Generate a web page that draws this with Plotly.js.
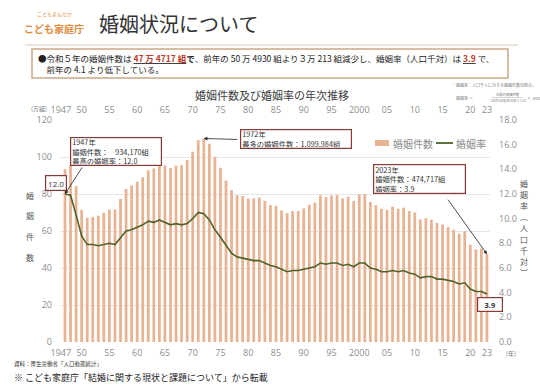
<!DOCTYPE html>
<html>
<head>
<meta charset="utf-8">
<script src="https://cdn.plot.ly/plotly-3.0.1.min.js"></script>
<style>html,body{margin:0;padding:0;background:#fff;}#chart{width:540px;height:387px;}</style>
</head>
<body>
<div id="chart"></div>
<script>
// ---- DATA ----
const years = [1947,1948,1949,1950,1951,1952,1953,1954,1955,1956,1957,1958,1959,1960,1961,1962,1963,1964,1965,1966,1967,1968,1969,1970,1971,1972,1973,1974,1975,1976,1977,1978,1979,1980,1981,1982,1983,1984,1985,1986,1987,1988,1989,1990,1991,1992,1993,1994,1995,1996,1997,1998,1999,2000,2001,2002,2003,2004,2005,2006,2007,2008,2009,2010,2011,2012,2013,2014,2015,2016,2017,2018,2019,2020,2021,2022,2023];
// 婚姻件数 (万組)
const marriages = [93.4,95.4,84.2,71.5,67.2,67.7,68.2,69.8,71.5,71.6,77.3,82.7,84.7,86.6,89.0,92.8,93.8,96.3,95.5,94.0,95.3,95.6,98.4,102.9,109.1,110.0,107.2,100.0,94.2,87.2,82.1,79.3,78.9,77.5,77.7,78.1,76.3,74.0,73.6,71.1,69.6,70.8,70.8,72.2,74.2,75.4,79.3,78.3,79.2,79.5,77.6,78.5,76.2,79.8,80.0,75.7,74.0,72.0,71.4,73.1,72.0,72.6,70.8,70.0,66.2,66.9,66.1,64.4,63.5,62.1,60.7,58.6,59.9,52.6,50.1,50.5,47.5];
// 婚姻率 (人口千対)
const rates = [12.0,11.9,10.3,8.6,7.9,7.9,7.8,7.9,8.0,7.9,8.5,9.0,9.1,9.3,9.5,9.8,9.7,9.9,9.7,9.5,9.6,9.5,9.6,10.0,10.5,10.4,9.9,9.1,8.5,7.8,7.2,6.9,6.8,6.7,6.6,6.6,6.4,6.2,6.1,5.9,5.7,5.8,5.8,5.9,6.0,6.1,6.4,6.3,6.4,6.4,6.2,6.3,6.1,6.4,6.4,6.0,5.9,5.7,5.7,5.8,5.7,5.8,5.6,5.5,5.2,5.3,5.3,5.1,5.1,5.0,4.9,4.7,4.8,4.3,4.1,4.1,3.9];
const xTickText = ['1947','50','55','60','65','70','75','80','85','90','95','2000','05','10','15','20','23'];
const xTickYears = [1947,1950,1955,1960,1965,1970,1975,1980,1985,1990,1995,2000,2005,2010,2015,2020,2023];
const leftTicks = [0,20,40,60,80,100,120];
const rightTicks = [0,2,4,6,8,10,12,14,16,18];
const seriesNames = ['婚姻件数', '婚姻率'];

// ---- STYLE ----
const JP = '"Noto Sans CJK JP", "Noto Sans", sans-serif';
const NUM = '"Liberation Sans Narrow", "Open Sans", sans-serif';
const tickFont = {family: NUM, size: 9, color: '#8c8c8c'};
const boxColor = '#8b3a3a';
const barColor = '#e8b393';
const lineColor = '#4f6228';
const L = 60, R = 490, T = 120, B = 342;
const px = x => (x - L) / (R - L);
const py = y => (B - y) / (B - T);
// first label ("1947") is drawn slightly left of its bar, as in the original
const xTickVals = xTickYears.map((v, i) => i === 0 ? v - 0.75 : v);

const traces = [
  {type: 'bar', x: years, y: marriages, name: seriesNames[0], xaxis: 'x', yaxis: 'y',
   marker: {color: barColor}, width: 0.5, hoverinfo: 'skip'},
  {type: 'scatter', mode: 'lines', x: years, y: rates, name: seriesNames[1], xaxis: 'x2', yaxis: 'y2',
   line: {color: lineColor, width: 1.6}, hoverinfo: 'skip'}
];

const ann = [];
function txt(text, x, y, size, color, opts) {
  ann.push(Object.assign({text: text, x: x, y: y, xref: 'paper', yref: 'paper', showarrow: false,
    font: {family: JP, size: size, color: color}}, opts || {}));
}
// header
txt('婚姻状況について', px(97), py(23), 20, '#333', {xanchor: 'left', yanchor: 'middle'});
txt('こどもまんなか', px(54), py(14), 5, '#e08a3c', {xanchor: 'center', yanchor: 'middle'});
txt('<b>こども家庭庁</b>', px(54), py(28), 10, '#e08a3c', {xanchor: 'center', yanchor: 'middle'});
// summary box text
txt('●令和５年の婚姻件数は <b><u><span style="color:#c0392b">47 万 4717 組</span></u></b><b>で</b>、前年の 50 万 4930 組より３万 213 組減少し、婚姻率（人口千対）は <b><u><span style="color:#c0392b">3.9</span></u></b> で、<br>\u3000前年の 4.1 より低下している。',
    px(36), py(63.5), 8.5, '#222', {xanchor: 'left', yanchor: 'middle', align: 'left'});
// small notes
txt('・婚姻率：人口千人に対する婚姻件数の割合。', px(450), py(85.5), 4, '#777', {xanchor: 'left', yanchor: 'middle'});
txt('婚姻率 ＝', px(475), py(97.5), 4, '#777', {xanchor: 'right', yanchor: 'middle'});
txt('年間の婚姻件数', px(508), py(94.5), 3.3, '#777', {xanchor: 'center', yanchor: 'middle'});
txt('10月1日現在日本人人口', px(508), py(100.5), 3.3, '#777', {xanchor: 'center', yanchor: 'middle'});
txt('× 1000', px(525), py(97.5), 4, '#777', {xanchor: 'left', yanchor: 'middle'});
// chart title
txt('婚姻件数及び婚姻率の年次推移', px(272), py(95.5), 11, '#404040', {xanchor: 'center', yanchor: 'middle'});
// units
txt('(万組)', px(39), py(108), 6, '#777', {xanchor: 'center', yanchor: 'middle'});
txt('(年)', px(511), py(353), 6, '#777', {xanchor: 'center', yanchor: 'middle'});
// legend labels
txt(seriesNames[0], px(391), py(143), 10, '#8a8a8a', {xanchor: 'left', yanchor: 'middle'});
txt(seriesNames[1], px(454), py(143), 10, '#8a8a8a', {xanchor: 'left', yanchor: 'middle'});
// axis titles (vertical)
['婚','姻','件','数'].forEach((c, i) => txt(c, px(30), py(195 + i * 20.7), 8, '#555', {xanchor: 'center', yanchor: 'middle'}));
['婚','姻','率','︵','人','口','千','対','︶'].forEach((c, i) => txt(c, px(524), py(183 + i * 11.2), 8, '#555', {xanchor: 'center', yanchor: 'middle'}));
// sources
txt('資料：厚生労働省「人口動態統計」', px(12), py(364), 5.5, '#333', {xanchor: 'left', yanchor: 'middle'});
txt('※ こども家庭庁「結婚に関する現状と課題について」から転載', px(12), py(377), 9, '#222', {xanchor: 'left', yanchor: 'middle'});

// annotation boxes
function box(text, x0, y0, w, h) {
  ann.push({text: text, xref: 'paper', yref: 'paper', x: px(x0), y: py(y0), xanchor: 'left', yanchor: 'top',
    showarrow: false, align: 'left', valign: 'middle', width: w - 4, height: h - 4, borderpad: 1,
    bordercolor: boxColor, borderwidth: 1.2, bgcolor: '#fff',
    font: {family: JP, size: 7.3, color: '#333'}});
}
box('1947年<br>婚姻件数：\u00a0\u00a0\u00a0\u00a0934,170組<br>最高の婚姻率：12.0', 70, 137, 92, 29);
box('1972年<br>最多の婚姻件数：1,099,984組', 240, 129, 112, 20);
box('2023年<br>婚姻件数：474,717組<br>婚姻率：3.9', 373, 164, 93, 30);
ann.push({text: '12.0', xref: 'paper', yref: 'paper', x: px(45), y: py(175), xanchor: 'left', yanchor: 'top',
  showarrow: false, align: 'center', width: 18, height: 12, borderpad: 1, bordercolor: boxColor, borderwidth: 1.2,
  bgcolor: '#fff', font: {family: '"Open Sans", sans-serif', size: 8, color: '#333'}});
ann.push({text: '<b>3.9</b>', xref: 'paper', yref: 'paper', x: px(477), y: py(297), xanchor: 'left', yanchor: 'top',
  showarrow: false, align: 'center', width: 22, height: 11, borderpad: 1, bordercolor: boxColor, borderwidth: 1.2,
  bgcolor: '#fff', font: {family: '"Open Sans", sans-serif', size: 7.5, color: '#333'}});
// arrows
function arrow(x, y, xr, yr, ax, ay) {
  ann.push({text: '', x: x, y: y, xref: xr, yref: yr, showarrow: true, ax: ax, ay: ay,
    arrowhead: 2, arrowsize: 0.9, arrowwidth: 0.8, arrowcolor: '#222'});
}
arrow(years[0], rates[0], 'x2', 'y2', 18, -28);
arrow(years[25], marriages[25], 'x', 'y', 35, 1);
arrow(years[76], marriages[76], 'x', 'y', -40, -56);

const shapes = [
  {type: 'line', xref: 'paper', yref: 'paper', x0: px(25), x1: px(518), y0: py(45), y1: py(45), line: {color: '#dcc6b2', width: 1}},
  {type: 'rect', xref: 'paper', yref: 'paper', x0: px(32), x1: px(508), y0: py(78), y1: py(49), line: {color: '#c9a886', width: 1.5}},
  {type: 'line', xref: 'paper', yref: 'paper', x0: px(492), x1: px(523), y0: py(97.5), y1: py(97.5), line: {color: '#999', width: 0.4}},
  // legend swatches
  {type: 'rect', xref: 'paper', yref: 'paper', x0: px(375), x1: px(389), y0: py(146), y1: py(140), line: {width: 0}, fillcolor: barColor},
  {type: 'line', xref: 'paper', yref: 'paper', x0: px(436), x1: px(453), y0: py(143), y1: py(143), line: {color: lineColor, width: 1.8}}
];

const xr = [1946.1, 2023.55];
const layout = {
  width: 540, height: 387,
  margin: {l: L, r: 540 - R, t: T, b: 387 - B, pad: 0},
  paper_bgcolor: '#fff', plot_bgcolor: '#fff',
  font: {family: JP},
  showlegend: false,
  xaxis: {range: xr, tickmode: 'array', tickvals: xTickVals, ticktext: xTickText, tickfont: tickFont, tickangle: 0,
    showgrid: false, zeroline: false, showline: false, ticks: '', ticklabelstandoff: 4, fixedrange: true},
  xaxis2: {range: xr, overlaying: 'x', side: 'top', anchor: 'y2', tickmode: 'array', tickvals: xTickVals, ticktext: xTickText,
    tickfont: tickFont, tickangle: 0, showgrid: false, zeroline: false, showline: false, ticks: '', ticklabelstandoff: 4, fixedrange: true},
  yaxis: {range: [0, 120], tickmode: 'array', tickvals: leftTicks, ticktext: leftTicks.map(String), tickfont: tickFont,
    showgrid: true, gridcolor: '#e6e6e6', gridwidth: 1, zeroline: false, showline: false, ticks: '', ticklabelstandoff: 7, fixedrange: true},
  yaxis2: {range: [0, 18], overlaying: 'y', side: 'right', anchor: 'x2', tickmode: 'array', tickvals: rightTicks,
    ticktext: rightTicks.map(v => v.toFixed(1)), tickfont: tickFont, showgrid: false, zeroline: false, showline: false,
    ticks: '', ticklabelstandoff: 8, fixedrange: true},
  annotations: ann,
  shapes: shapes
};
Plotly.newPlot('chart', traces, layout, {staticPlot: true, displayModeBar: false});
</script>
</body>
</html>
